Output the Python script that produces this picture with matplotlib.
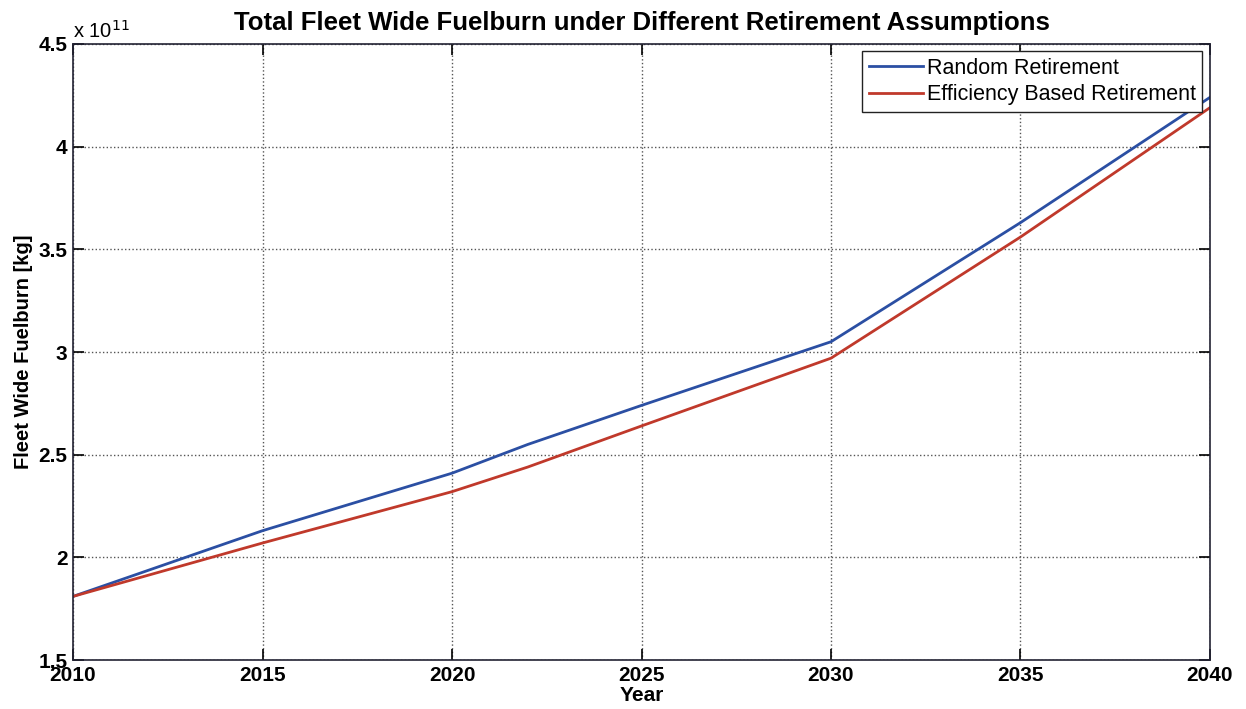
import numpy as np
import matplotlib.pyplot as plt
from matplotlib.ticker import FuncFormatter

# values (fleet wide fuelburn, kg)
years = [2010, 2015, 2020, 2022, 2025, 2030, 2035, 2040]
random_retirement = np.array([1.81, 2.13, 2.41, 2.55, 2.74, 3.05, 3.63, 4.24]) * 1e11
efficiency_retirement = np.array([1.81, 2.07, 2.32, 2.44, 2.64, 2.97, 3.56, 4.19]) * 1e11

plt.rcParams['font.family'] = ['Liberation Sans', 'DejaVu Sans']

fig = plt.figure(figsize=(12.46, 7.09), dpi=100)
ax = fig.add_axes([0.0586, 0.069, 0.9125, 0.869])

ax.plot(years, random_retirement, color='#2b4fa3', lw=2.0, label='Random Retirement')
ax.plot(years, efficiency_retirement, color='#c0392b', lw=2.0, label='Efficiency Based Retirement')

ax.set_xlim(2010, 2040)
ax.set_ylim(1.5e11, 4.5e11)
ax.set_xticks(range(2010, 2041, 5))
ax.set_yticks(np.arange(1.5, 4.51, 0.5) * 1e11)
ax.yaxis.set_major_formatter(FuncFormatter(lambda v, p: '%g' % round(v / 1e11, 2)))

ax.grid(True, linestyle=':', color='#555555', linewidth=1.0)
ax.tick_params(direction='in', top=True, right=True, length=8, width=1.2,
               labelsize=15, pad=4)
for lab in ax.get_xticklabels() + ax.get_yticklabels():
    lab.set_fontweight('bold')
for s in ax.spines.values():
    s.set_linewidth(1.2)
    s.set_color('#222233')

ax.text(0.0, 1.003, 'x 10$^{11}$', transform=ax.transAxes, fontsize=14.5, va='bottom', ha='left')

ax.set_title('Total Fleet Wide Fuelburn under Different Retirement Assumptions',
             fontsize=18.5, fontweight='bold', pad=10)
ax.set_xlabel('Year', fontsize=15, fontweight='bold', labelpad=1)
ax.set_ylabel('Fleet Wide Fuelburn [kg]', fontsize=14.5, fontweight='bold', labelpad=4)

leg = ax.legend(loc='upper right', fontsize=15.5, fancybox=False, framealpha=1,
                edgecolor='#222222', borderaxespad=0.35, handlelength=2.5,
                handletextpad=0.2, borderpad=0.3, labelspacing=0.25)
leg.get_frame().set_linewidth(1.0)

fig.savefig('out.png', dpi=100)
